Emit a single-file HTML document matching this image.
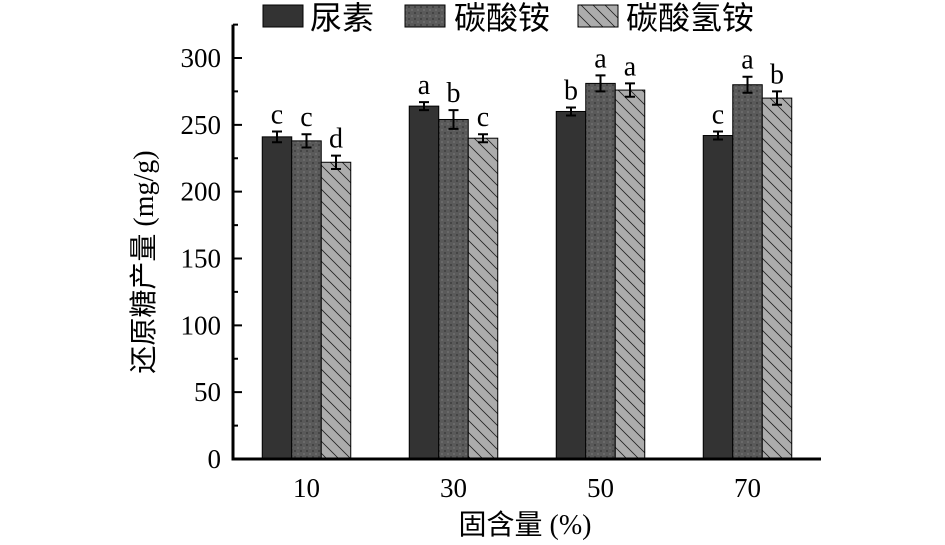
<!DOCTYPE html>
<html><head><meta charset="utf-8"><style>
body{margin:0;background:#fff;}
svg{display:block;font-family:"Liberation Serif","Noto Serif CJK SC",serif;}
</style></head><body>
<svg id="c" width="945" height="545" viewBox="0 0 945 545">
<defs>
<pattern id="dots" width="6" height="6" patternUnits="userSpaceOnUse"><rect width="6" height="6" fill="#5a5a5a"/><rect x="0" y="0" width="2" height="2" fill="#444"/><rect x="3" y="3" width="2" height="2" fill="#6a6a6a"/></pattern>
<pattern id="hatch" width="12" height="12" patternUnits="userSpaceOnUse"><rect width="12" height="12" fill="#acacac"/><path d="M0,0 L12,12 M-6,6 L6,18 M6,-6 L18,6" stroke="#222" stroke-width="0.8"/></pattern>
</defs>
<g id="legend">
<rect x="263" y="5" width="40" height="22" fill="#333" stroke="#000"/>
<text x="310" y="29" font-size="32" font-family="Liberation Sans,Noto Sans CJK SC,sans-serif">尿素</text>
<rect x="405" y="5" width="40" height="22" fill="url(#dots)" stroke="#000"/>
<text x="454" y="29" font-size="32" font-family="Liberation Sans,Noto Sans CJK SC,sans-serif">碳酸铵</text>
<rect x="578" y="5" width="40" height="22" fill="url(#hatch)" stroke="#000"/>
<text x="626" y="29" font-size="32" font-family="Liberation Sans,Noto Sans CJK SC,sans-serif">碳酸氢铵</text>
</g>
<g id="plot"></g>
<text x="525" y="534" font-size="28" text-anchor="middle" font-family="Liberation Serif,Noto Sans CJK SC,serif">固含量 (%)</text>
<text transform="translate(153,262) rotate(-90)" font-size="28" text-anchor="middle" font-family="Liberation Serif,Noto Sans CJK SC,serif">还原糖产量 (mg/g)</text>
</svg>
<script>
const categories = ["10","30","50","70"];
const urea = [241,264,260,242];
const ureaErr = [4,3,3,3];
const carb = [238,254,281,280];
const carbErr = [5,7,6,6];
const bicarb = [222,240,276,270];
const bicarbErr = [5,3,5,5];
const ureaLetters = ["c","a","b","c"];
const carbLetters = ["c","b","a","a"];
const bicarbLetters = ["d","c","a","b"];
const yTicks = [0,50,100,150,200,250,300];

const NS="http://www.w3.org/2000/svg";
const g=document.getElementById('plot');
const x0=233, step=147, barW=29.5, y0=459, k=(459-58)/300, yTop=325;
const X=i=>x0+step*(i+0.5);
const Y=v=>y0-v*k;
function mk(t,a){const e=document.createElementNS(NS,t);for(const n in a)e.setAttribute(n,a[n]);g.appendChild(e);return e;}
const series=[[urea,ureaErr,ureaLetters,'#333','urea'],[carb,carbErr,carbLetters,'url(#dots)','carbonate'],[bicarb,bicarbErr,bicarbLetters,'url(#hatch)','bicarbonate']];
series.forEach((s,si)=>{
  s[0].forEach((v,i)=>{
    const bx=X(i)-1.5*barW+si*barW;
    const r=mk('rect',{x:bx,y:Y(v),width:barW,height:y0-Y(v),fill:s[3],stroke:'#000','stroke-width':1});
    
    
    const cx=bx+barW/2,e=s[1][i];
    const eb=mk('path',{d:`M${cx},${Y(v+e)}V${Y(v-e)}M${cx-5},${Y(v+e)}H${cx+5}M${cx-5},${Y(v-e)}H${cx+5}`,stroke:'#000','stroke-width':2,fill:'none'});
    
    
    const t=mk('text',{x:cx,y:Y(v+e)-8,'font-size':28,'text-anchor':'middle'});
    t.textContent=s[2][i];
    
    
  });
});
const ax=mk('path',{d:`M${x0},${Y(yTop)}V${y0}H${x0+step*4}`,stroke:'#000','stroke-width':3,fill:'none'});


yTicks.forEach(v=>{
  const tk=mk('path',{d:`M${x0},${Y(v)}H${x0+9}M${x0},${Y(v+25)}H${x0+5}`,stroke:'#000','stroke-width':2});
  
  
  const t=mk('text',{x:x0-12,y:Y(v)+9,'font-size':27,'text-anchor':'end'});
  t.textContent=v;
  
  
});
categories.forEach((c,i)=>{
  const t=mk('text',{x:X(i),y:y0+38,'font-size':27,'text-anchor':'middle'});
  t.textContent=c;
  
  
});
</script>
</body></html>
